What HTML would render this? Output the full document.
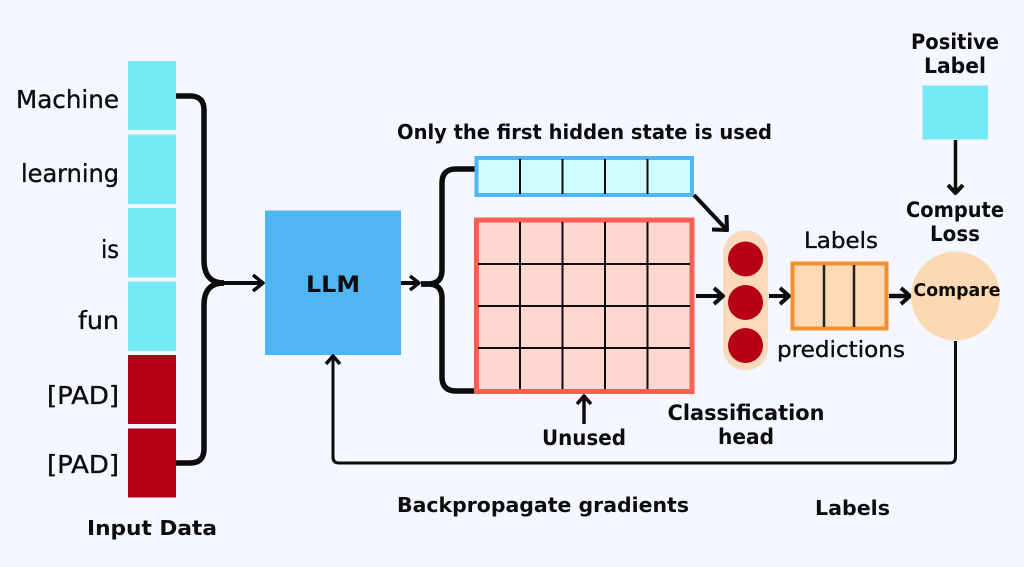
<!DOCTYPE html>
<html>
<head>
<meta charset="utf-8">
<style>
html,body{margin:0;padding:0;background:#f4f7ff;width:1024px;height:567px;overflow:hidden}
svg{display:block}
text{font-family:"Comic Sans MS","DejaVu Sans","Liberation Sans",sans-serif;fill:#0c0c0c}
.b{font-weight:bold}
.m{stroke:#0c0c0c;stroke-width:.35px}
.c{fill:none;stroke:#0c0c0c;stroke-linecap:butt;stroke-linejoin:round}
</style>
</head>
<body>
<svg width="1024" height="567" viewBox="0 0 1024 567" xmlns="http://www.w3.org/2000/svg">
<rect width="1024" height="567" fill="#f4f7ff"/>

<!-- input column -->
<rect x="128" y="61" width="48" height="69" fill="#76e9f6"/>
<rect x="128" y="134.500" width="48" height="69.500" fill="#76e9f6"/>
<rect x="128" y="208" width="48" height="69.500" fill="#76e9f6"/>
<rect x="128" y="281.500" width="48" height="69.500" fill="#76e9f6"/>
<rect x="128" y="355" width="48" height="69" fill="#b70015"/>
<rect x="128" y="428.500" width="48" height="69" fill="#b70015"/>

<text x="119" y="108" text-anchor="end" class="m" font-size="25" textLength="103" lengthAdjust="spacingAndGlyphs">Machine</text>
<text x="119" y="182" text-anchor="end" class="m" font-size="25" textLength="98" lengthAdjust="spacingAndGlyphs">learning</text>
<text x="119" y="258" text-anchor="end" class="m" font-size="25" textLength="18" lengthAdjust="spacingAndGlyphs">is</text>
<text x="119" y="329" text-anchor="end" class="m" font-size="25" textLength="41" lengthAdjust="spacingAndGlyphs">fun</text>
<text x="119" y="404" text-anchor="end" class="m" font-size="25" textLength="72" lengthAdjust="spacingAndGlyphs">[PAD]</text>
<text x="119" y="473" text-anchor="end" class="m" font-size="25" textLength="72" lengthAdjust="spacingAndGlyphs">[PAD]</text>
<text x="87" y="535" class="b" font-size="20" textLength="130" lengthAdjust="spacingAndGlyphs">Input Data</text>

<!-- input connectors -->
<path class="c" stroke-width="5.500" d="M176 96H190Q204 96 204 110V260Q204 283 224 283"/>
<path class="c" stroke-width="5.500" d="M176 463H190Q204 463 204 449V305Q204 283 224 283"/>
<path class="c" stroke-width="4" d="M220 283H262"/>
<path class="c" stroke-width="3.500" d="M253 275L263 283L253 291"/>

<!-- LLM -->
<rect x="265" y="210.500" width="136" height="144.500" fill="#4fb6f3"/>
<text x="333" y="292" text-anchor="middle" class="b" font-size="22" textLength="54" lengthAdjust="spacingAndGlyphs">LLM</text>

<path class="c" stroke-width="4" d="M401 283H418"/>
<path class="c" stroke-width="3.500" d="M410 276L419 283L410 290"/>

<!-- LLM out connectors -->
<path class="c" stroke-width="5.500" d="M421 284H428Q442 284 442 270V183Q442 169 456 169H475"/>
<path class="c" stroke-width="5.500" d="M421 284H428Q442 284 442 298V377Q442 391 456 391H475"/>

<text x="397" y="139" class="b" font-size="20" textLength="375" lengthAdjust="spacingAndGlyphs">Only the first hidden state is used</text>

<!-- first hidden state -->
<rect x="476.500" y="158" width="215.500" height="37" fill="#cffcff" stroke="#4fb6f3" stroke-width="4"/>
<g stroke="#0c0c0c" stroke-width="2">
<path d="M520 159V194M562.500 159V194M605 159V194M647.500 159V194"/>
</g>

<!-- grid -->
<rect x="476.500" y="220" width="215.500" height="171.500" fill="#ffd6d0" stroke="#fb5f52" stroke-width="5"/>
<g stroke="#0c0c0c" stroke-width="2">
<path d="M520 222V389M562.500 222V389M605 222V389M647.500 222V389"/>
<path d="M478 264H690M478 306H690M478 348H690"/>
</g>

<!-- diagonal arrow -->
<path class="c" stroke-width="4" d="M694 195L726 229"/>
<path class="c" stroke-width="4" d="M712 229.500L727 230L726.500 215"/>

<!-- classification head -->
<rect x="723" y="230.500" width="45" height="140" rx="22.500" fill="#fbd9bf"/>
<circle cx="745.500" cy="259" r="17.500" fill="#b70015"/>
<circle cx="745.500" cy="302.500" r="17.500" fill="#b70015"/>
<circle cx="745.500" cy="345.500" r="17.500" fill="#b70015"/>

<path class="c" stroke-width="4" d="M696 296H722"/>
<path class="c" stroke-width="4" d="M714 288L723 296L714 304"/>
<path class="c" stroke-width="4" d="M769 296H788"/>
<path class="c" stroke-width="4" d="M780 288L789 296L780 304"/>

<!-- labels box -->
<rect x="792.500" y="263.500" width="94" height="65" fill="#fdd9b5" stroke="#f28e2f" stroke-width="4"/>
<path d="M824 265V327M854 265V327" stroke="#222" stroke-width="2.500"/>
<text x="841" y="248" text-anchor="middle" class="m" font-size="22" textLength="74" lengthAdjust="spacingAndGlyphs">Labels</text>
<text x="841" y="357" text-anchor="middle" class="m" font-size="22" textLength="128" lengthAdjust="spacingAndGlyphs">predictions</text>

<path class="c" stroke-width="4.500" d="M889 296H908"/>
<path class="c" stroke-width="4" d="M901 288L910 296L901 304"/>

<!-- compare -->
<circle cx="955.500" cy="296" r="44.500" fill="#fbd9b4"/>
<text x="957" y="296" text-anchor="middle" class="b" font-size="18" textLength="87" lengthAdjust="spacingAndGlyphs">Compare</text>

<!-- positive label -->
<text x="955" y="49" text-anchor="middle" class="b" font-size="21" textLength="88" lengthAdjust="spacingAndGlyphs">Positive</text>
<text x="955" y="73" text-anchor="middle" class="b" font-size="21" textLength="62" lengthAdjust="spacingAndGlyphs">Label</text>
<rect x="922.500" y="85.500" width="65.500" height="54" fill="#76e9f6"/>
<path class="c" stroke-width="3.500" d="M955.500 140V192"/>
<path class="c" stroke-width="4" d="M948 185L955.500 193L963 185"/>
<text x="955" y="217" text-anchor="middle" class="b" font-size="21" textLength="98" lengthAdjust="spacingAndGlyphs">Compute</text>
<text x="955" y="241" text-anchor="middle" class="b" font-size="21" textLength="50" lengthAdjust="spacingAndGlyphs">Loss</text>

<!-- unused -->
<path class="c" stroke-width="3.500" d="M584 424V397"/>
<path class="c" stroke-width="3.500" d="M577 404L584 396L591 404"/>
<text x="584" y="445" text-anchor="middle" class="b" font-size="21" textLength="84" lengthAdjust="spacingAndGlyphs">Unused</text>

<text x="746" y="420" text-anchor="middle" class="b" font-size="21" textLength="157" lengthAdjust="spacingAndGlyphs">Classification</text>
<text x="746" y="444" text-anchor="middle" class="b" font-size="21" textLength="56" lengthAdjust="spacingAndGlyphs">head</text>

<!-- feedback -->
<path class="c" stroke-width="3" d="M955.500 341V457Q955.500 463 949.500 463H339Q333 463 333 457V358"/>
<path class="c" stroke-width="3.500" d="M326 364L333 356L340 364"/>

<text x="397" y="512" class="b" font-size="20" textLength="292" lengthAdjust="spacingAndGlyphs">Backpropagate gradients</text>
<text x="815" y="515" class="b" font-size="20" textLength="75" lengthAdjust="spacingAndGlyphs">Labels</text>
</svg>
</body>
</html>
